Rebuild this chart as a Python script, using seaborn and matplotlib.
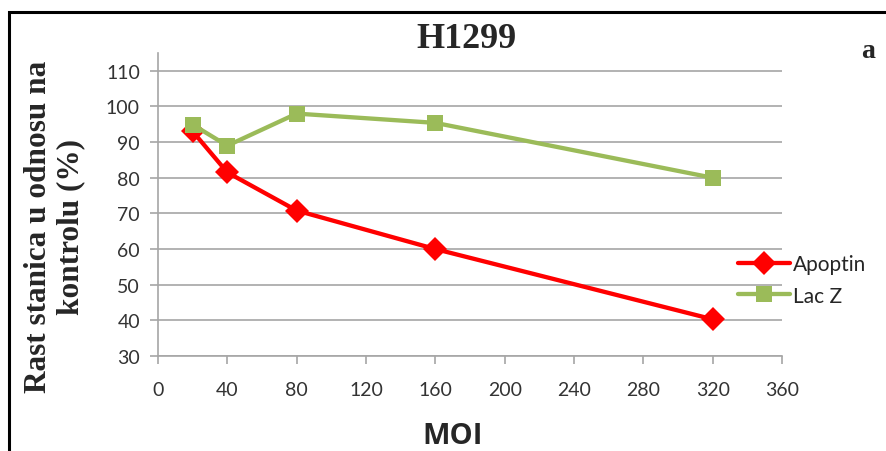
import matplotlib
matplotlib.use("Agg")
import matplotlib.pyplot as plt
from matplotlib.patches import Rectangle
import seaborn as sns
import pandas as pd

moi = [20, 40, 80, 160, 320]
apoptin = [93, 81.5, 70.8, 60, 40.3]
lacz = [94.9, 89, 98, 95.4, 80]
x_ticks = [0, 40, 80, 120, 160, 200, 240, 280, 320, 360]
y_ticks = [30, 40, 50, 60, 70, 80, 90, 100, 110]

df = pd.DataFrame({
    "MOI": moi * 2,
    "value": apoptin + lacz,
    "series": ["Apoptin"] * len(moi) + ["Lac Z"] * len(moi),
})

sns.set_style("white")
plt.rcParams["font.family"] = ["Lato", "DejaVu Sans"]

W, H = 887, 452
fig = plt.figure(figsize=(W / 100, H / 100), dpi=100)
ax = fig.add_axes([158 / W, 1 - 357 / H, 624 / W, 303 / H])

palette = {"Apoptin": "#FF0000", "Lac Z": "#9BBB59"}
markers = {"Apoptin": "D", "Lac Z": "s"}
sns.lineplot(data=df, x="MOI", y="value", hue="series", style="series",
             palette=palette, markers=markers, dashes=False, linewidth=3.1,
             markersize=12, markeredgewidth=0, ax=ax)

ax.set_xlim(0, 360)
ax.set_ylim(30, 115)
ax.set_xticks(x_ticks)
ax.set_yticks(y_ticks)
ax.set_xticklabels([str(v) for v in x_ticks], fontsize=14, color="#333333")
ax.set_yticklabels([str(v) for v in y_ticks], fontsize=14, color="#333333")
ax.yaxis.grid(True, color="#A6A6A6", linewidth=1.2)
ax.xaxis.grid(False)
for s in ["top", "right"]:
    ax.spines[s].set_visible(False)
for s in ["left", "bottom"]:
    ax.spines[s].set_color("#A6A6A6")
    ax.spines[s].set_linewidth(1.2)
ax.tick_params(axis="both", which="both", direction="out", length=6,
               color="#A6A6A6", width=1.2, left=True, bottom=True)
ax.tick_params(axis="x", pad=12)
ax.tick_params(axis="y", pad=7)

ax.set_xlabel("MOI", fontsize=21, fontweight="bold", family=["Open Sans", "DejaVu Sans"],
              va="center")
ax.xaxis.set_label_coords((453 - 158) / 624, -(437 - 357) / 303)
ax.set_ylabel("")

fig.text(55 / W, 1 - 227 / H, "Rast stanica u odnosu na\nkontrolu (%)", rotation=90,
         fontsize=22.5, fontweight="bold", family=["Liberation Serif"],
         ha="center", va="center", linespacing=1.15, multialignment="center")
fig.text(466 / W, 1 - 40 / H, "H1299", fontsize=26, fontweight="bold",
         family=["Liberation Serif"], ha="center", va="center")

handles, labels = ax.get_legend_handles_labels()
leg = ax.legend(handles, labels, loc="center left",
                bbox_to_anchor=((738 - 158) / 624, (357 - 281) / 303),
                frameon=False, fontsize=15, handlelength=2.5, handletextpad=0.15,
                labelspacing=0.55, borderaxespad=0, borderpad=0)

fig.text(868 / W, 1 - 52 / H, "a", fontsize=20, fontweight="bold", family=["Liberation Serif"],
         ha="center", va="center")

fig.patches.append(Rectangle((9 / W, -0.1), 1.2, 1 - 13 / H + 0.1,
                             transform=fig.transFigure, fill=False,
                             edgecolor="black", linewidth=2.2))

fig.savefig("out.png", dpi=100)
